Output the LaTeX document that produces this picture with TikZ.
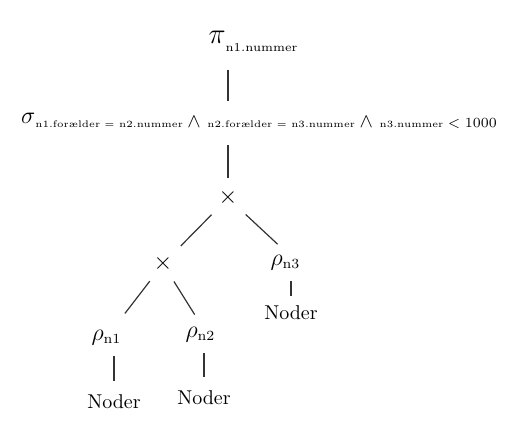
\documentclass[tikz,border=0pt]{standalone}
\usepackage{amsmath,amssymb}
\usepackage{tikz}
\usetikzlibrary{positioning}
\newcommand{\subtxt}{\fontsize{4.8}{6}\selectfont}

\begin{document}
\begin{tikzpicture}[x=0.5pt,y=-0.5pt]
  \tikzstyle{op}=[inner sep=2pt]
  \tikzstyle{rel}=[inner sep=2pt]
  \tikzstyle{edge}=[draw=black!80,line width=0.6pt]
  \useasboundingbox (0,0) rectangle (532,423);
  \node[op] (proj) at (253,41) {{\Large$\pi$}\raisebox{-0.9ex}{\fontsize{6}{7}\selectfont n1.nummer}};
  \node[op] (sel) at (259,121) {{\large$\sigma$}\raisebox{-0.5ex}{\subtxt n1.forælder = n2.nummer\ \normalsize$\wedge$\ \subtxt n2.forælder = n3.nummer\ \normalsize$\wedge$\ \subtxt n3.nummer\ \scriptsize$<1000$}};
  \node[op] (cross1) at (228,198) {\large$\times$};
  \node[op] (cross2) at (163,264) {\large$\times$};
  \node[rel] (rho3) at (285,263) {{\large$\rho$}\raisebox{-0.3ex}{\scriptsize n3}};
  \node[rel] (rho1) at (106,338) {{\large$\rho$}\raisebox{-0.3ex}{\scriptsize n1}};
  \node[rel] (rho2) at (200,335) {{\large$\rho$}\raisebox{-0.3ex}{\scriptsize n2}};
  \node[rel] (leaf3) at (291,313) {Noder};
  \node[rel] (leaf1) at (114,402) {Noder};
  \node[rel] (leaf2) at (204,398) {Noder};
  \draw[edge,shorten <=7pt,shorten >=4pt] (proj.south -| cross1) -- (sel.north -| cross1);
  \draw[edge,shorten <=6pt,shorten >=4pt] (sel.south -| cross1) -- (cross1.north);
  \draw[edge,shorten <=3pt,shorten >=4pt] (cross1) -- (cross2);
  \draw[edge,shorten <=3pt,shorten >=5pt] (cross1) -- (rho3.north);
  \draw[edge,shorten <=3pt,shorten >=8pt] (cross2) -- (rho1);
  \draw[edge,shorten <=3pt,shorten >=5pt] (cross2) -- (rho2.north);
  \draw[edge,shorten <=3pt,shorten >=3pt] (leaf3.north) -- (leaf3.north |- rho3.south);
  \draw[edge,shorten <=5pt,shorten >=3pt] (leaf1.north) -- (leaf1.north |- rho1.south);
  \draw[edge,shorten <=5pt,shorten >=3pt] (leaf2.north) -- (leaf2.north |- rho2.south);
\end{tikzpicture}
\end{document}
